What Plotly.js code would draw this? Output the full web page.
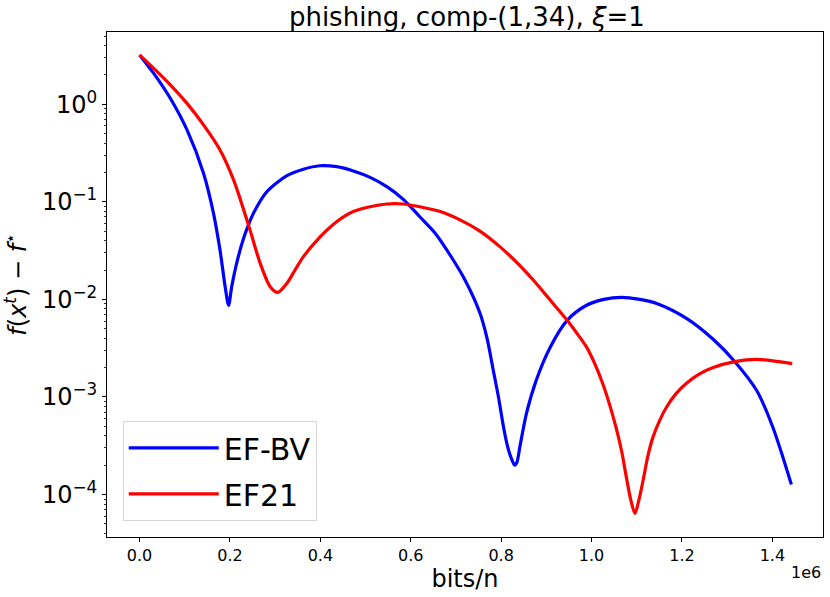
<!DOCTYPE html>
<html>
<head>
<meta charset="utf-8">
<script src="https://cdn.plot.ly/plotly-3.0.1.min.js"></script>
<style>html,body{margin:0;padding:0;background:#fff;}#chart{width:830px;height:597px;}</style>
</head>
<body>
<div id="chart"></div>
<script>
// x in units of 1e6 bits/n
const efbvX = [0, 0.031, 0.068, 0.105, 0.1415, 0.1636, 0.178, 0.1894, 0.197, 0.204, 0.2153, 0.230, 0.2425, 0.252, 0.2816, 0.326, 0.3625, 0.399, 0.436, 0.473, 0.510, 0.547, 0.5835, 0.620, 0.6536, 0.687, 0.720, 0.753, 0.7687, 0.7825, 0.794, 0.8046, 0.8125, 0.819, 0.825, 0.830, 0.835, 0.8415, 0.856, 0.878, 0.908, 0.946, 0.989, 1.027, 1.066, 1.107, 1.144, 1.210, 1.269, 1.317, 1.365, 1.401, 1.442];
const efbvY = [3.2, 2.08, 1.15, 0.545, 0.196, 0.076, 0.032, 0.0135, 0.0087, 0.0136, 0.024, 0.042, 0.0605, 0.0764, 0.1267, 0.185, 0.216, 0.234, 0.229, 0.207, 0.178, 0.143, 0.106, 0.0703, 0.048, 0.0285, 0.0158, 0.00724, 0.0040, 0.00188, 1.0e-3, 5.1e-4, 3.35e-4, 2.6e-4, 2.2e-4, 2.0e-4, 2.15e-4, 3.1e-4, 6.8e-4, 1.5e-3, 3.2e-3, 6.1e-3, 8.7e-3, 0.0100, 0.0105, 0.0100, 9.1e-3, 6.4e-3, 3.9e-3, 2.3e-3, 1.17e-3, 4.9e-4, 1.27e-4];

const ef21X = [0, 0.031, 0.068, 0.105, 0.1415, 0.178, 0.208, 0.2425, 0.267, 0.289, 0.306, 0.326, 0.344, 0.3625, 0.3995, 0.436, 0.473, 0.510, 0.547, 0.583, 0.620, 0.665, 0.709, 0.753, 0.797, 0.842, 0.871, 0.908, 0.946, 0.9675, 0.989, 1.0075, 1.026, 1.0404, 1.055, 1.067, 1.077, 1.087, 1.096, 1.1045, 1.114, 1.1245, 1.136, 1.151, 1.166, 1.186, 1.210, 1.239, 1.269, 1.317, 1.365, 1.444];
const ef21Y = [3.2, 2.34, 1.58, 1.02, 0.614, 0.34, 0.168, 0.055, 0.0234, 0.0135, 0.0118, 0.0146, 0.020, 0.0274, 0.0437, 0.0625, 0.0794, 0.089, 0.095, 0.095, 0.089, 0.0795, 0.0653, 0.0501, 0.0347, 0.0221, 0.0158, 9.9e-3, 6.1e-3, 4.5e-3, 3.24e-3, 2.17e-3, 1.32e-3, 8.2e-4, 4.7e-4, 2.71e-4, 1.5e-4, 8.7e-5, 6.4e-5, 8.7e-5, 1.4e-4, 2.47e-4, 3.9e-4, 5.8e-4, 7.9e-4, 1.07e-3, 1.38e-3, 1.72e-3, 2.0e-3, 2.3e-3, 2.43e-3, 2.2e-3];

const seriesNames = ["EF-BV", "EF21"];
const xTickVals = [0, 0.2, 0.4, 0.6, 0.8, 1.0, 1.2, 1.4];
const xTickText = ["0.0", "0.2", "0.4", "0.6", "0.8", "1.0", "1.2", "1.4"];
const yTickVals = [1e-4, 1e-3, 1e-2, 1e-1, 1];
const yTickText = ["10<sup>−4</sup>", "10<sup>−3</sup>", "10<sup>−2</sup>", "10<sup>−1</sup>", "10<sup>0</sup>"];

const minorVals = [];
for (let e = -5; e <= 0; e++) {
  for (let m = 2; m <= 9; m++) minorVals.push(m * Math.pow(10, e));
}

const font = "DejaVu Sans, sans-serif";
const yRange = [-4.435, 0.74];

const traces = [
  {x: efbvX, y: efbvY, name: seriesNames[0], legendgroup: "a", mode: "lines", type: "scatter",
   line: {color: "#0000ff", width: 3.2, shape: "spline", smoothing: 0.8}},
  {x: ef21X, y: ef21Y, name: seriesNames[1], legendgroup: "b", mode: "lines", type: "scatter",
   line: {color: "#ff0000", width: 3.2, shape: "spline", smoothing: 0.8}},
  {x: [0], y: [1], yaxis: "y2", mode: "none", showlegend: false, hoverinfo: "skip", type: "scatter"}
];

const layout = {
  width: 830, height: 597,
  margin: {l: 107, r: 7, t: 32, b: 60, pad: 0},
  paper_bgcolor: "#fff", plot_bgcolor: "#fff",
  font: {family: font, color: "#000"},
  title: {text: "phishing, comp-(1,34), <i>ξ</i>=1", font: {size: 26, family: font},
          x: 0.5625, xanchor: "center", y: 0.971, yanchor: "middle"},
  xaxis: {
    range: [-0.072, 1.512], showgrid: false, zeroline: false,
    showline: true, linecolor: "#000", linewidth: 1, mirror: true,
    ticks: "outside", ticklen: 4, tickwidth: 1, tickcolor: "#000",
    tickmode: "array", tickvals: xTickVals, ticktext: xTickText,
    tickfont: {size: 16, family: font},
    title: {text: "bits/n", font: {size: 24, family: font}, standoff: 4}
  },
  yaxis: {
    type: "log", range: yRange, showgrid: false, zeroline: false,
    showline: true, linecolor: "#000", linewidth: 1, mirror: true,
    ticks: "outside", ticklen: 4, tickwidth: 1, tickcolor: "#000",
    tickmode: "array", tickvals: yTickVals, ticktext: yTickText,
    tickfont: {size: 24, family: font},
    title: {text: "<i>f</i>(<i>x</i><sup><i>t</i></sup>) − <i>f</i><sup>⋆</sup>", font: {size: 24, family: font}, standoff: 8}
  },
  yaxis2: {
    type: "log", range: yRange, overlaying: "y", side: "left",
    showgrid: false, zeroline: false, showline: false,
    ticks: "outside", ticklen: 2, tickwidth: 0.8, tickcolor: "#000",
    tickmode: "array", tickvals: minorVals, showticklabels: false
  },
  legend: {
    x: 0.022, y: 0.032, xanchor: "left", yanchor: "bottom",
    bgcolor: "rgba(255,255,255,0.8)", bordercolor: "#d6d6d6", borderwidth: 1,
    font: {size: 30, family: font}, itemwidth: 90, tracegroupgap: 4,
    traceorder: "grouped"
  },
  annotations: [
    {text: "1e6", xref: "paper", yref: "paper", x: 1.0, y: -0.048, xanchor: "right", yanchor: "top",
     showarrow: false, font: {size: 16, family: font}}
  ],
  showlegend: true
};

Plotly.newPlot("chart", traces, layout, {displayModeBar: false, staticPlot: true});
</script>
</body>
</html>
